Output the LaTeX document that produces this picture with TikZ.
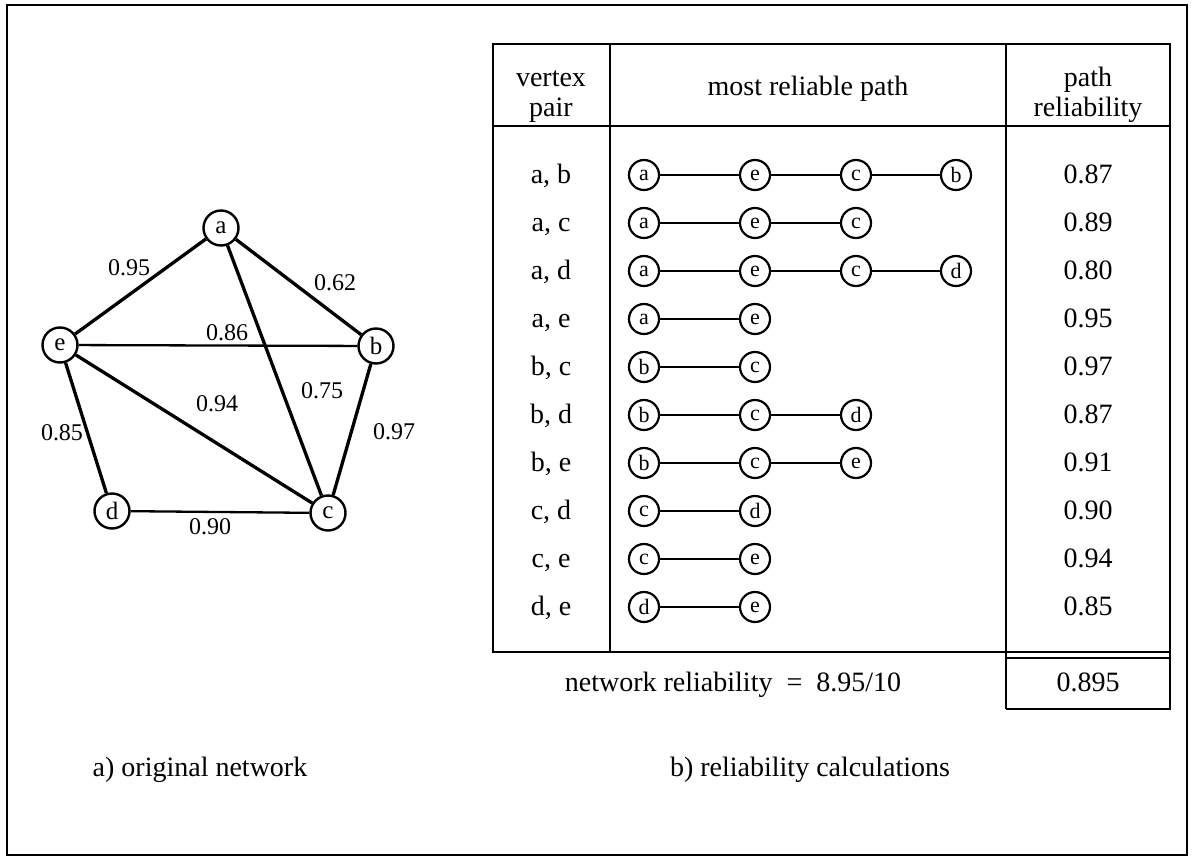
\documentclass[tikz,border=0pt]{standalone}
\usepackage{fontspec}
\setmainfont{Liberation Serif}
\begin{document}
\begin{tikzpicture}[x=1pt,y=-1pt,
  frame/.style={draw,line width=2pt},
  tabline/.style={draw,line width=1.9pt},
  gv/.style={circle,draw,line width=2.4pt,minimum size=35pt,inner sep=0pt,font=\fontsize{25}{25}\selectfont},
  pv/.style={circle,draw,line width=2.2pt,minimum size=30pt,inner sep=0pt,font=\fontsize{22}{22}\selectfont},
  thick edge/.style={line width=3.3pt},
  thin edge/.style={line width=2.3pt},
  pl/.style={line width=1.8pt},
  wlab/.style={font=\fontsize{24}{24}\selectfont,inner sep=1pt},
  txt/.style={font=\fontsize{28}{28}\selectfont,inner sep=0pt,anchor=base},
]
\useasboundingbox (0,0) rectangle (1192,862);
\draw[frame] (7,5) rectangle (1187,855);

% ---------- original network ----------
\node[gv] (a) at (221,228) {a};
\node[gv] (b) at (376,346) {b};
\node[gv] (e) at (60,345) {e};
\node[gv] (d) at (112,511) {d};
\node[gv] (c) at (328,513) {c};
\draw[thick edge] (a) -- (e);
\draw[thick edge] (a) -- (b);
\draw[thick edge] (a) -- (c);
\draw[thin edge]  (e) -- (b);
\draw[thick edge] (e) -- (c);
\draw[thick edge] (e) -- (d);
\draw[thick edge] (b) -- (c);
\draw[thin edge]  (d) -- (c);
\node[wlab] (lae) at (129,268) {0.95};
\node[wlab] (lab) at (335,283) {0.62};
\node[wlab] (leb) at (227,333) {0.86};
\node[wlab] (lac) at (322,391) {0.75};
\node[wlab] (lec) at (217,404) {0.94};
\node[wlab] (lbc) at (394,432) {0.97};
\node[wlab] (led) at (62,433) {0.85};
\node[wlab] (ldc) at (210,527) {0.90};
\node[txt] (capa) at (200,776) {a) original network};

% ---------- reliability table ----------
\draw[tabline] (493,44) rectangle (1170,652);
\draw[tabline] (493,126) -- (1170,126);
\draw[tabline] (610,44) -- (610,652);
\draw[tabline] (1006,44) -- (1006,709);
\draw[tabline] (1170,652) -- (1170,709) -- (1006,709);
\draw[tabline] (1006,658) -- (1170,658);

\node[txt] (h1a) at (551,86) {vertex};
\node[txt] (h1b) at (551,116) {pair};
\node[txt] (h2) at (808,95) {most reliable path};
\node[txt] (h3a) at (1088,86) {path};
\node[txt] (h3b) at (1088,116) {reliability};

\foreach \row/\y/\lab/\val/\verts in {
  1/175/{a, b}/0.87/{a,e,c,b},
  2/223/{a, c}/0.89/{a,e,c},
  3/271/{a, d}/0.80/{a,e,c,d},
  4/319/{a, e}/0.95/{a,e},
  5/367/{b, c}/0.97/{b,c},
  6/415/{b, d}/0.87/{b,c,d},
  7/463/{b, e}/0.91/{b,c,e},
  8/511/{c, d}/0.90/{c,d},
  9/559/{c, e}/0.94/{c,e},
  10/607/{d, e}/0.85/{d,e}}{
  \node[txt] (pair\row) at (551,\y+8) {\lab};
  \node[txt] (val\row) at (1088,\y+8) {\val};
  \foreach \v [count=\k] in \verts {
    \pgfmathsetmacro\px{{644,755,856,956}[\k-1]}
    \node[pv] (p\row-\k) at (\px,\y) {\v};
    \ifnum\k>1
      \pgfmathtruncatemacro\prev{\k-1}
      \draw[pl] (p\row-\prev) -- (p\row-\k);
    \fi
  }
}

\node[txt] (net) at (733,691) {network reliability \ =\ \ 8.95/10};
\node[txt] (netval) at (1088,691) {0.895};
\node[txt] (capb) at (810,776) {b) reliability calculations};
\end{tikzpicture}
\end{document}
